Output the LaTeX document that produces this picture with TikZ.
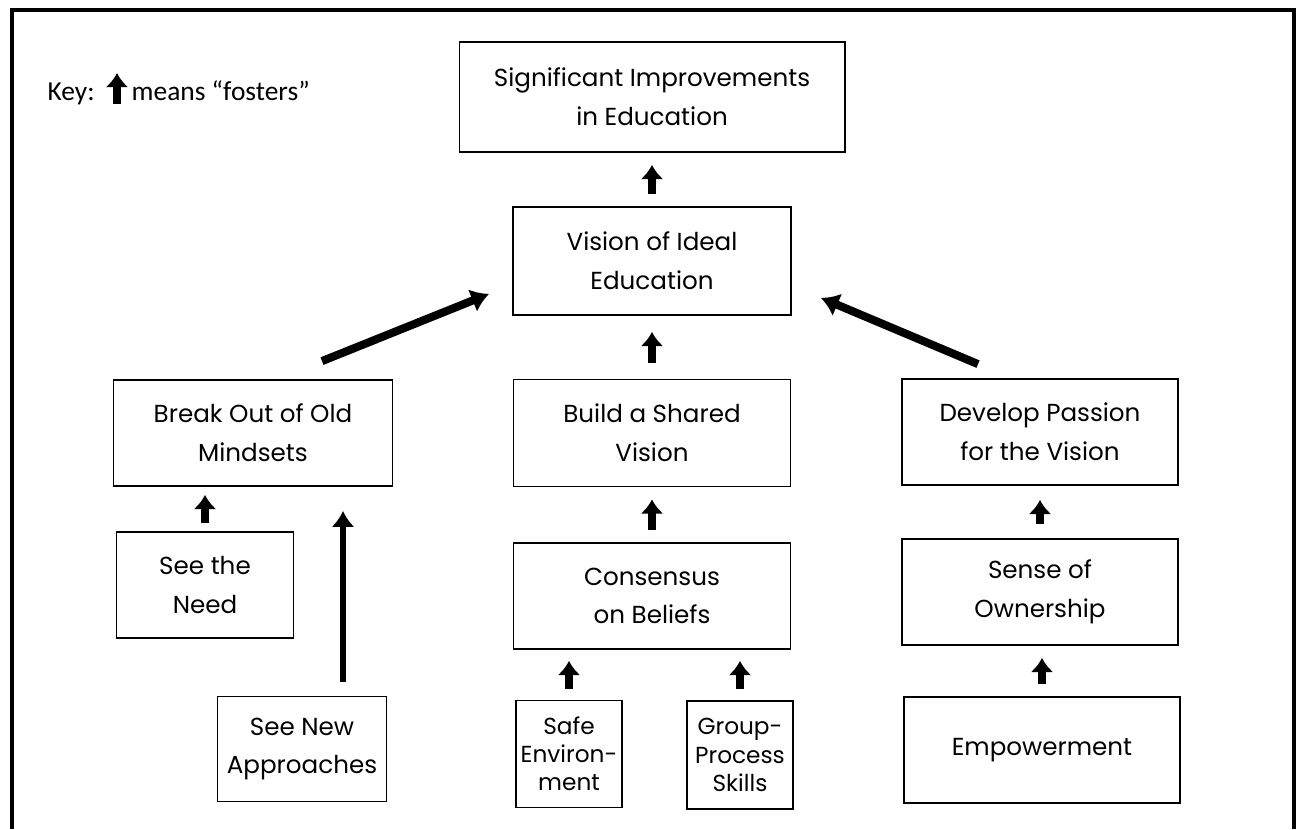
\documentclass[tikz,border=0pt]{standalone}
\usepackage{fontspec}
\setmainfont{Poppins}
\newfontfamily\keyfont{Carlito}
\usetikzlibrary{arrows.meta,calc}

\begin{document}
\begin{tikzpicture}[x=0.01cm,y=-0.01cm,
    box/.style={draw, line width=0.5pt, align=center, inner sep=0pt,
        font=\fontsize{7}{11}\selectfont},
    smallbox/.style={box, font=\fontsize{6.6}{8}\selectfont},
    fosters/.style={-{Latex[length=4pt,width=6.5pt]}, line width=2pt, shorten <=#1, shorten >=#1},
    fosters/.default=0.12cm,
    bigarrow/.style={-{Latex[length=5pt,width=7pt]}, line width=2.3pt}]
    \useasboundingbox (0,0) rectangle (1297,829);
    % frame, left open at the bottom
    \draw[line width=0.9pt] (12,829) -- (12,10) -- (1294,10) -- (1294,829);

    % key
    \node[anchor=base west, font=\keyfont\fontsize{7.8}{9}\selectfont, inner sep=0pt] (keyname) at (47,100) {Key:};
    \node[anchor=base west, font=\keyfont\fontsize{7.8}{9}\selectfont, inner sep=0pt] (keytext) at (131,100) {means “fosters”};
    \coordinate (keytail) at (117,104);
    \coordinate (keytip) at (117,73);
    \draw[fosters=0pt] (keytail) -- (keytip);

    % middle column
    \node[box, minimum width=3.85cm, minimum height=1.1cm] (sig) at (652,97) {Significant Improvements\\in Education};
    \node[box, minimum width=2.78cm, minimum height=1.08cm] (vision) at (652,261) {Vision of Ideal\\Education};
    \node[box, minimum width=2.77cm, minimum height=1.07cm] (build) at (652,433) {Build a Shared\\Vision};
    \node[box, minimum width=2.77cm, minimum height=1.06cm] (consensus) at (652,596) {Consensus\\on Beliefs};
    \node[smallbox, minimum width=1.06cm, minimum height=1.07cm] (safe) at (569,754) {Safe\\Environ-\\ment};
    \node[smallbox, minimum width=1.06cm, minimum height=1.08cm] (group) at (740,755) {Group-\\Process\\Skills};

    % left column
    \node[box, minimum width=2.79cm, minimum height=1.06cm] (break) at (253,433) {Break Out of Old\\Mindsets};
    \node[box, minimum width=1.77cm, minimum height=1.06cm] (need) at (205,585) {See the\\Need};
    \node[box, minimum width=1.69cm, minimum height=1.05cm] (approaches) at (302,749) {See New\\Approaches};

    % right column
    \node[box, minimum width=2.76cm, minimum height=1.06cm] (develop) at (1040,432) {Develop Passion\\for the Vision};
    \node[box, minimum width=2.76cm, minimum height=1.06cm] (sense) at (1040,592) {Sense of\\Ownership};
    \node[box, minimum width=2.76cm, minimum height=1.06cm] (empower) at (1042,750) {Empowerment};

    % short arrows
    \draw[fosters] (vision) -- (sig);
    \draw[fosters=0.16cm] (build) -- (vision);
    \draw[fosters] (consensus) -- (build);
    \draw[fosters=0.11cm] (safe) -- (safe |- consensus.south);
    \draw[fosters=0.11cm] (group) -- (group |- consensus.south);
    \draw[fosters=0.08cm] (need) -- (need |- break.south);
    \draw[fosters=0.14cm] (sense) -- (develop);
    \draw[fosters=0.12cm] (empower) -- (empower |- sense.south);

    % long arrow up to the left box
    \coordinate (newx) at (343,0);
    \draw[-{Latex[length=4.5pt,width=6.5pt]}, line width=1.8pt, shorten <=0.14cm, shorten >=0.24cm]
        (approaches.north -| newx) -- (break.south -| newx);

    % slanted arrows into the vision box
    \draw[bigarrow] ($(break.north)+(69,-18)$) -- ($(vision.south west)+(-23,-22)$);
    \draw[bigarrow] ($(develop.north)+(-62,-14)$) -- ($(vision.south east)+(29,-18)$);
\end{tikzpicture}
\end{document}
